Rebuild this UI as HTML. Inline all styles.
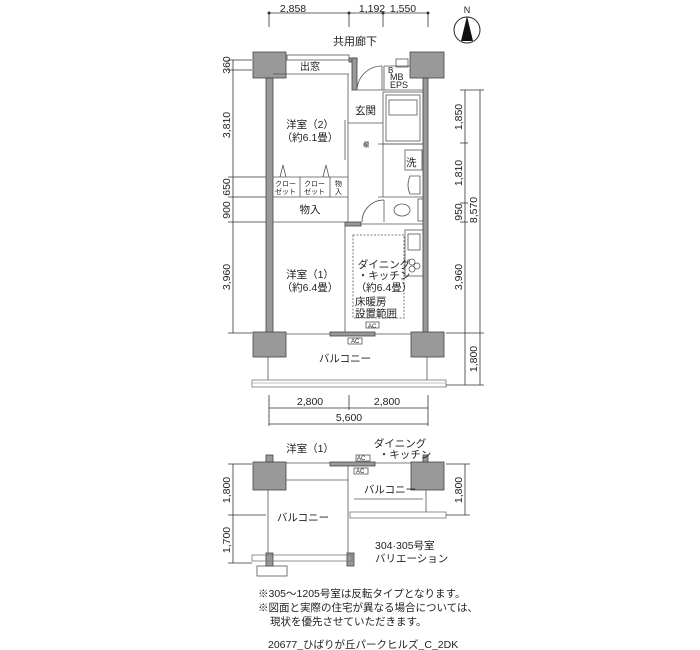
<!DOCTYPE html>
<html><head><meta charset="utf-8"><style>
html,body{margin:0;padding:0;background:#fff;}
svg{display:block;font-family:"Liberation Sans","Noto Sans CJK JP",sans-serif;}
</style></head><body>
<svg width="700" height="650" viewBox="0 0 700 650" xmlns="http://www.w3.org/2000/svg">
<g fill="#222" font-size="10.5">
<text x="293" y="12" text-anchor="middle">2,858</text>
<text x="372" y="12" text-anchor="middle">1,192</text>
<text x="403" y="12" text-anchor="middle">1,550</text>
<text x="355" y="45" text-anchor="middle" font-size="11">共用廊下</text>
</g>
<g stroke="#333" stroke-width="0.8" fill="none">
<line x1="269" y1="13" x2="428" y2="13"/>
<line x1="269" y1="13" x2="269" y2="27"/><line x1="349" y1="13" x2="349" y2="27"/>
<line x1="383" y1="13" x2="383" y2="27"/><line x1="428" y1="13" x2="428" y2="27"/>
</g>
<g fill="#333"><circle cx="269" cy="13" r="1.5"/><circle cx="349" cy="13" r="1.5"/><circle cx="383" cy="13" r="1.5"/><circle cx="428" cy="13" r="1.5"/></g>
<circle cx="467" cy="30" r="13" fill="none" stroke="#222" stroke-width="1"/>
<polygon points="467,16 461,41 473,41" fill="#111"/>
<text x="467" y="13" font-size="9" text-anchor="middle" fill="#222">N</text>

<g fill="#999" stroke="#444" stroke-width="0.8">
<rect x="253" y="52" width="33" height="26"/>
<rect x="410" y="52" width="34" height="26"/>
<rect x="266" y="78" width="7" height="255"/>
<rect x="423" y="78" width="5" height="255"/>
<rect x="253" y="332" width="33" height="25"/>
<rect x="411" y="332" width="33" height="25"/>
<rect x="349" y="58" width="8" height="4"/>
<rect x="352" y="58" width="5" height="32"/>
<rect x="345" y="222" width="16" height="4"/>
<rect x="330" y="332" width="45" height="4"/>
</g>
<g stroke="#555" stroke-width="0.8" fill="none">
<rect x="287" y="55" width="62" height="5"/>
<line x1="273" y1="74" x2="349" y2="74"/>
<line x1="348" y1="74" x2="348" y2="222"/>
<line x1="345" y1="120" x2="345" y2="160"/>
<path d="M357 90 A25 25 0 0 1 382 66"/>
<line x1="382" y1="66" x2="382" y2="90"/>
<line x1="357" y1="90" x2="423" y2="90"/>
<line x1="384" y1="66" x2="410" y2="66"/><line x1="384" y1="66" x2="384" y2="90"/>
<rect x="396" y="59" width="12" height="8"/>
<line x1="348" y1="123" x2="383" y2="123"/>
<rect x="383" y="92" width="40" height="52"/>
<rect x="386" y="95" width="34" height="46"/>
<rect x="389" y="100" width="28" height="15"/>
<line x1="383" y1="144" x2="383" y2="197"/>
<line x1="378" y1="144" x2="423" y2="144"/>
<rect x="405" y="150" width="17" height="20"/>
<path d="M410 176 h10 v18 h-10 q-4 -9 0 -18z"/>
<line x1="378" y1="197" x2="423" y2="197"/>
<path d="M362 222 A22 22 0 0 1 384 200"/>
<line x1="384" y1="200" x2="384" y2="222"/>
<ellipse cx="402" cy="210" rx="8" ry="6"/>
<rect x="418" y="199" width="5" height="22"/>
<line x1="361" y1="224" x2="423" y2="224"/>
<line x1="273" y1="177" x2="348" y2="177"/>
<line x1="273" y1="197" x2="348" y2="197"/>
<line x1="300" y1="177" x2="300" y2="197"/><line x1="330" y1="177" x2="330" y2="197"/>
<line x1="273" y1="222" x2="345" y2="222"/>
<polyline points="280,177 283,165 286,177"/><polyline points="323,177 326,165 329,177"/>
<line x1="345" y1="226" x2="345" y2="332"/>
<rect x="353" y="235" width="51" height="83" stroke-dasharray="2,1.5"/>
<rect x="405" y="230" width="18" height="46"/>
<rect x="408" y="234" width="12" height="16"/>
<circle cx="412" cy="262" r="3"/><circle cx="417" cy="266" r="3"/><circle cx="412" cy="269" r="3"/>
<rect x="366" y="322" width="13" height="6"/>
<rect x="348" y="338" width="14" height="6"/>
<line x1="286" y1="334" x2="330" y2="334"/><line x1="375" y1="334" x2="411" y2="334"/>
<line x1="268" y1="357" x2="268" y2="380"/><line x1="427" y1="357" x2="427" y2="380"/>
<rect x="252" y="380" width="194" height="7" stroke="#777"/>
<line x1="252" y1="383" x2="446" y2="383" stroke="#aaa"/>
</g>
<g fill="#222" font-size="10.5">
<text x="300" y="70" font-size="10">出窓</text>
<text x="388" y="73" font-size="8">B</text>
<text x="390" y="80" font-size="9">MB</text>
<text x="390" y="88" font-size="9">EPS</text>
<text x="355" y="114">玄関</text>
<text x="406" y="166">洗</text>
<text x="363" y="147" font-size="6">欄</text>
<text x="310" y="128" text-anchor="middle">洋室（2）</text>
<text x="310" y="141" text-anchor="middle">（約6.1畳）</text>
<text x="275" y="186" font-size="7">クロー</text><text x="275" y="194" font-size="7">ゼット</text>
<text x="304" y="186" font-size="7">クロー</text><text x="304" y="194" font-size="7">ゼット</text>
<text x="335" y="186" font-size="7">物</text><text x="335" y="194" font-size="7">入</text>
<text x="310" y="213" text-anchor="middle">物入</text>
<text x="310" y="278" text-anchor="middle">洋室（1）</text>
<text x="310" y="291" text-anchor="middle">（約6.4畳）</text>
<text x="384" y="268" text-anchor="middle">ダイニング</text>
<text x="384" y="279" text-anchor="middle">・キッチン</text>
<text x="384" y="291" text-anchor="middle">（約6.4畳）</text>
<text x="355" y="305">床暖房</text>
<text x="355" y="317">設置範囲</text>
<text x="368" y="328" font-size="6">AC</text>
<text x="351" y="343" font-size="6">AC</text>
<text x="345" y="362" text-anchor="middle">バルコニー</text>
<text x="310" y="405" text-anchor="middle">2,800</text>
<text x="387" y="405" text-anchor="middle">2,800</text>
<text x="349" y="421" text-anchor="middle">5,600</text>
</g>
<g stroke="#333" stroke-width="0.8" fill="none">
<line x1="269" y1="408" x2="428" y2="408"/><line x1="269" y1="424" x2="428" y2="424"/>
<line x1="269" y1="395" x2="269" y2="426"/><line x1="349" y1="395" x2="349" y2="410"/><line x1="428" y1="395" x2="428" y2="426"/>
<line x1="233" y1="60" x2="233" y2="333"/>
<line x1="228" y1="60" x2="252" y2="60"/><line x1="228" y1="70" x2="252" y2="70"/>
<line x1="228" y1="177" x2="266" y2="177"/><line x1="228" y1="197" x2="266" y2="197"/>
<line x1="228" y1="222" x2="266" y2="222"/><line x1="228" y1="333" x2="252" y2="333"/>
<line x1="465" y1="90" x2="465" y2="385"/><line x1="480" y1="90" x2="480" y2="385"/>
<line x1="460" y1="90" x2="484" y2="90"/><line x1="460" y1="143" x2="468" y2="143"/>
<line x1="460" y1="203" x2="468" y2="203"/><line x1="460" y1="222" x2="468" y2="222"/>
<line x1="446" y1="333" x2="484" y2="333"/><line x1="446" y1="385" x2="484" y2="385"/>
</g>
<g fill="#222" font-size="10.5">
<text transform="translate(230,65) rotate(-90)" text-anchor="middle">360</text>
<text transform="translate(230,125) rotate(-90)" text-anchor="middle">3,810</text>
<text transform="translate(230,187) rotate(-90)" text-anchor="middle">650</text>
<text transform="translate(230,210) rotate(-90)" text-anchor="middle">900</text>
<text transform="translate(230,277) rotate(-90)" text-anchor="middle">3,960</text>
<text transform="translate(462,117) rotate(-90)" text-anchor="middle">1,850</text>
<text transform="translate(462,173) rotate(-90)" text-anchor="middle">1,810</text>
<text transform="translate(462,212) rotate(-90)" text-anchor="middle">950</text>
<text transform="translate(477,210) rotate(-90)" text-anchor="middle">8,570</text>
<text transform="translate(462,277) rotate(-90)" text-anchor="middle">3,960</text>
<text transform="translate(477,359) rotate(-90)" text-anchor="middle">1,800</text>
</g>

<g fill="#999" stroke="#444" stroke-width="0.8">
<rect x="253" y="462" width="33" height="28"/>
<rect x="411" y="462" width="33" height="28"/>
<rect x="266" y="455" width="7" height="7"/><rect x="423" y="455" width="5" height="7"/>
<rect x="330" y="462" width="45" height="4"/>
<rect x="266" y="553" width="7" height="13"/><rect x="347" y="553" width="7" height="13"/>
</g>
<g stroke="#555" stroke-width="0.8" fill="none">
<line x1="286" y1="463" x2="330" y2="463"/><line x1="375" y1="463" x2="411" y2="463"/>
<rect x="356" y="455" width="14" height="6"/><rect x="354" y="468" width="14" height="6"/>
<line x1="286" y1="480" x2="348" y2="480"/>
<line x1="348" y1="466" x2="348" y2="553"/>
<line x1="268" y1="490" x2="268" y2="553"/>
<line x1="354" y1="499" x2="423" y2="499"/>
<line x1="426" y1="490" x2="426" y2="512"/>
<rect x="350" y="512" width="96" height="6" stroke="#777"/>
<rect x="252" y="555" width="100" height="6" stroke="#777"/>
<rect x="257" y="566" width="30" height="10"/>
</g>
<g fill="#222" font-size="10.5">
<text x="310" y="452" text-anchor="middle">洋室（1）</text>
<text x="400" y="447" text-anchor="middle">ダイニング</text>
<text x="405" y="458" text-anchor="middle">・キッチン</text>
<text x="357" y="460" font-size="6">AC</text>
<text x="356" y="473" font-size="6">AC</text>
<text x="390" y="493" text-anchor="middle">バルコニー</text>
<text x="303" y="521" text-anchor="middle">バルコニー</text>
<text x="375" y="549">304·305号室</text>
<text x="375" y="562">バリエーション</text>
<text transform="translate(230,490) rotate(-90)" text-anchor="middle">1,800</text>
<text transform="translate(230,540) rotate(-90)" text-anchor="middle">1,700</text>
<text transform="translate(462,490) rotate(-90)" text-anchor="middle">1,800</text>
<text x="258" y="597">※305～1205号室は反転タイプとなります。</text>
<text x="258" y="611">※図面と実際の住宅が異なる場合については、</text>
<text x="270" y="625">現状を優先させていただきます。</text>
<text x="268" y="648">20677_ひばりが丘パークヒルズ_C_2DK</text>
</g>
<g stroke="#333" stroke-width="0.8">
<line x1="233" y1="464" x2="233" y2="563"/>
<line x1="228" y1="464" x2="252" y2="464"/><line x1="228" y1="515" x2="266" y2="515"/><line x1="228" y1="563" x2="252" y2="563"/>
<line x1="465" y1="464" x2="465" y2="515"/>
<line x1="446" y1="464" x2="470" y2="464"/><line x1="446" y1="515" x2="470" y2="515"/>
</g>
</svg>
</body></html>
